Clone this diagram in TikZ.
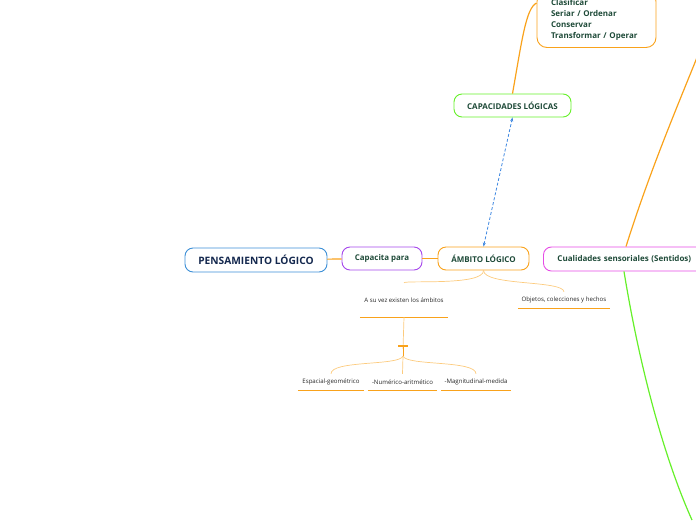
\documentclass[tikz,border=0pt]{standalone}
\usepackage{fontspec}
\setmainfont{Open Sans}
\usetikzlibrary{arrows.meta, positioning}

\definecolor{ink}{HTML}{1E4A38}
\definecolor{navy}{HTML}{14284E}
\definecolor{orng}{HTML}{F9A21B}
\definecolor{lorng}{HTML}{FCCB7E}
\definecolor{grn}{HTML}{66F02A}
\definecolor{prpl}{HTML}{A546EC}
\definecolor{mgnt}{HTML}{E64BE6}
\definecolor{blu}{HTML}{3C8FD6}
\definecolor{dblu}{HTML}{3C86E0}

\begin{document}
\begin{tikzpicture}[
    x=1pt, y=-1pt,
    base/.style={draw, line width=0.9pt, rounded corners=8pt, align=center, inner sep=2pt, text=ink, font=\bfseries\fontsize{8}{9}\selectfont},
    topic/.style={base, minimum height=24pt},
    leaf/.style={inner sep=0pt, text=black!85, font=\fontsize{6.1}{7}\selectfont},
    uline/.style={orng, line width=1pt},
    twig/.style={lorng, line width=0.7pt},
    branch/.style={orng, line width=1.2pt}
]
    \clip (0,0) rectangle (696,520);

    % main topics
    \node [topic, draw=blu, text=navy, minimum width=142pt, font=\bfseries\fontsize{10.2}{12}\selectfont] (pens) at (256,260) {PENSAMIENTO LÓGICO};
    \node [topic, draw=prpl, minimum width=80pt, minimum height=23pt, font=\bfseries\fontsize{7.9}{9}\selectfont] (capa) at (382,258.5) {Capacita para};
    \node [topic, draw=orng, minimum width=91pt, minimum height=23pt] (ambito) at (483.5,258.5) {ÁMBITO LÓGICO};
    \node [topic, draw=mgnt, minimum width=168pt, anchor=west, inner xsep=14pt, text width=140pt, align=left, font=\bfseries\fontsize{8}{9}\selectfont] (cual) at (543,259) {Cualidades sensoriales (Sentidos)};
    \node [topic, draw=grn, minimum width=117pt, minimum height=23pt] (capac) at (512.5,105.5) {CAPACIDADES LÓGICAS};
    \node [base, draw=orng, rounded corners=10pt, minimum width=119pt, minimum height=56pt, inner xsep=14pt, text width=91pt, align=left, font=\bfseries\fontsize{8}{11}\selectfont] (ops) at (596.5,19.5) {Clasificar\\Seriar / Ordenar\\Conservar\\Transformar / Operar};

    % leaves
    \node [leaf, minimum width=88pt, minimum height=34pt] (ambitos) at (404,300) {A su vez existen los ámbitos};
    \node [leaf, minimum width=92pt, minimum height=16pt] (objetos) at (564,300) {Objetos, colecciones y hechos};
    \node [leaf, minimum width=66pt, minimum height=16pt] (espacial) at (331,382) {Espacial-geométrico};
    \node [leaf, minimum width=69pt, minimum height=16pt] (numerico) at (402.5,382) {-Numérico-aritmético};
    \node [leaf, minimum width=70pt, minimum height=16pt] (magnit) at (476,382) {-Magnitudinal-medida};
    \coordinate (tbar) at (403,346);

    % underlines
    \foreach \n in {ambitos, objetos, espacial, numerico, magnit}
        \draw [uline] (\n.south west) -- (\n.south east);

    % connectors
    \draw [orng, line width=1.2pt] (pens) -- (capa);
    \draw [orng, line width=1.2pt] (capa) -- (ambito);
    \draw [dblu, densely dashed, line width=0.8pt, {Stealth[length=4pt]}-{Stealth[length=4pt]}] (ambito.north) -- (capac.south);
    \draw [branch] (capac.north) .. controls (522,40) and (526,8) .. (ops.west |- 0,3);
    \draw [branch] (cual.north -| 626,0) .. controls (650,170) and (680,100) .. (700,50);
    \draw [grn, line width=1.2pt] (cual.south -| 624,0) .. controls (640,370) and (665,460) .. (692,520);

    \draw [twig] (ambito.south) .. controls (484,286) and (405,280) .. (ambitos.north);
    \draw [twig] (ambito.south) .. controls (484,286) and (563,280) .. (objetos.north);
    \draw [twig] (ambitos.south) -- ([yshift=-3pt]tbar);
    \draw [orng, line width=1.2pt] ([xshift=-5pt]tbar) -- ([xshift=5pt]tbar);
    \draw [orng, line width=1pt] (tbar) -- (403,356);
    \draw [twig] (403,356) .. controls (400,366) and (331,360) .. (espacial.north);
    \draw [twig] (403,356) -- (numerico.north);
    \draw [twig] (403,356) .. controls (406,366) and (476,360) .. (magnit.north);

\end{tikzpicture}
\end{document}
